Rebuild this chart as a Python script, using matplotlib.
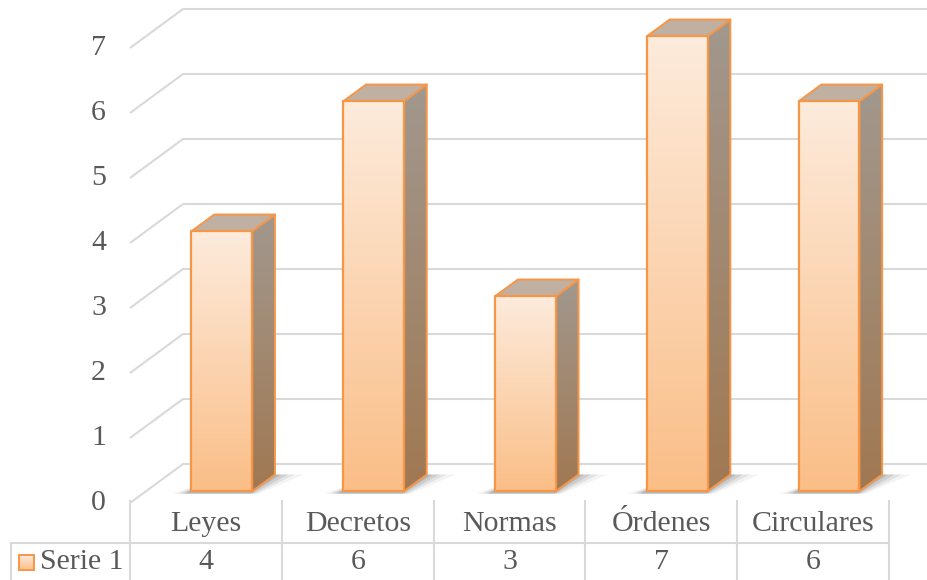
"""
3D-style column chart with a data table underneath (Excel look).
"""

import numpy as np
import matplotlib.pyplot as plt
from matplotlib.patches import Polygon

##############################################################################
# Data
categories = ["Leyes", "Decretos", "Normas", "Órdenes", "Circulares"]
values = [4, 6, 3, 7, 6]
series_name = "Serie 1"
y_ticks = [0, 1, 2, 3, 4, 5, 6, 7]

##############################################################################
# Layout (pixels) and oblique projection
W, H = 928, 580
X0, X1 = 130, 889        # front plane span
Y0 = 503                 # value 0 on the front plane
UNIT = 65                # pixels per unit
DX, DY = 53, -39         # offset of the back wall
BAR_FRAC = 0.40          # bar width as share of a column
D_FRONT, D_BACK = 0.30, 0.73

GRID = "#d9d9d9"
TEXT = "#595959"
EDGE = "#f79646"
FRONT_TOP, FRONT_BOT = (253, 235, 220), (250, 190, 135)
SIDE_TOP, SIDE_BOT = (162, 152, 142), (160, 120, 82)
TOP_FACE = "#bfb0a2"
FS = 21.5

plt.rcParams["font.family"] = ["Liberation Serif", "DejaVu Serif"]


def proj(x, v, d):
    return (x + d * DX, Y0 - v * UNIT + d * DY)


def gradient_fill(ax, pts, c_top, c_bot, z):
    poly = Polygon(pts, closed=True, facecolor="none", edgecolor="none", zorder=z)
    ax.add_patch(poly)
    xs = [p[0] for p in pts]
    ys = [p[1] for p in pts]
    t = np.linspace(0, 1, 256)[:, None]
    img = (np.array(c_top) * (1 - t) + np.array(c_bot) * t) / 255.0
    img = img[:, None, :]
    im = ax.imshow(img, extent=(min(xs), max(xs), max(ys), min(ys)),
                   origin="upper", aspect="auto", interpolation="bilinear",
                   zorder=z)
    im.set_clip_path(poly)


fig = plt.figure(figsize=(W / 100, H / 100), dpi=100)
ax = fig.add_axes([0, 0, 1, 1])
ax.set_xlim(0, W)
ax.set_ylim(H, 0)
ax.axis("off")

##############################################################################
# Side wall and back wall gridlines
for v in y_ticks:
    a = proj(X0, v, 0)
    b = proj(X0, v, 1)
    ax.plot([a[0], b[0], W + 20], [a[1], b[1], b[1]], color=GRID, lw=1.5,
            solid_capstyle="butt", zorder=1)
    ax.text(106, a[1], str(v), ha="right", va="center", fontsize=FS,
            color=TEXT)

##############################################################################
# Bars
col_w = (X1 - X0) / len(categories)
for i, v in enumerate(values):
    cx = X0 + (i + 0.5) * col_w
    xl, xr = cx - BAR_FRAC * col_w / 2, cx + BAR_FRAC * col_w / 2

    # soft shadow on the floor
    for grow, alpha in [(16, 0.06), (11, 0.09), (7, 0.12), (3, 0.16)]:
        sh = [proj(xl - grow, 0, D_FRONT - 0.06), proj(xr + grow * 0.6, 0, D_FRONT - 0.06),
              proj(xr + grow * 1.8, 0, D_BACK), proj(xl + grow, 0, D_BACK)]
        ax.add_patch(Polygon(sh, closed=True, facecolor="#383838",
                             edgecolor="none", alpha=alpha, zorder=2))

    fl0, fr0 = proj(xl, 0, D_FRONT), proj(xr, 0, D_FRONT)
    fl1, fr1 = proj(xl, v, D_FRONT), proj(xr, v, D_FRONT)
    br0, br1 = proj(xr, 0, D_BACK), proj(xr, v, D_BACK)
    bl1 = proj(xl, v, D_BACK)

    side = [fr0, fr1, br1, br0]
    gradient_fill(ax, side, SIDE_TOP, SIDE_BOT, 3)
    ax.add_patch(Polygon(side, closed=True, facecolor="none", edgecolor=EDGE,
                         lw=1.4, joinstyle="round", zorder=3.1))

    top = [fl1, fr1, br1, bl1]
    ax.add_patch(Polygon(top, closed=True, facecolor=TOP_FACE, edgecolor=EDGE,
                         lw=1.4, joinstyle="round", zorder=3.2))

    front = [fl0, fr0, fr1, fl1]
    gradient_fill(ax, front, FRONT_TOP, FRONT_BOT, 4)
    ax.add_patch(Polygon(front, closed=True, facecolor="none", edgecolor=EDGE,
                         lw=1.6, joinstyle="round", zorder=4.1))

##############################################################################
# Data table
tbl_top, row_sep, tbl_bot = 501, 543, H + 2
ax.plot([11, X1], [row_sep, row_sep], color=GRID, lw=1.5, zorder=1)
ax.plot([11, 11], [row_sep, tbl_bot], color=GRID, lw=1.5, zorder=1)
for k in range(len(categories) + 1):
    x = X0 + k * col_w
    ax.plot([x, x], [tbl_top, tbl_bot], color=GRID, lw=1.5, zorder=1)

for i, (c, v) in enumerate(zip(categories, values)):
    cx = X0 + (i + 0.5) * col_w
    ax.text(cx, 524, c, ha="center", va="center", fontsize=FS, color=TEXT)
    ax.text(cx, 562, str(v), ha="center", va="center", fontsize=FS,
            color=TEXT)

# legend key + series name
key = [(19, 555), (34, 555), (34, 570), (19, 570)]
gradient_fill(ax, key, FRONT_TOP, FRONT_BOT, 4)
ax.add_patch(Polygon(key, closed=True, facecolor="none", edgecolor=EDGE,
                     lw=1.4, zorder=4.1))
ax.text(40, 562, series_name, ha="left", va="center", fontsize=FS,
        color=TEXT)

fig.savefig("out.png", dpi=100)
